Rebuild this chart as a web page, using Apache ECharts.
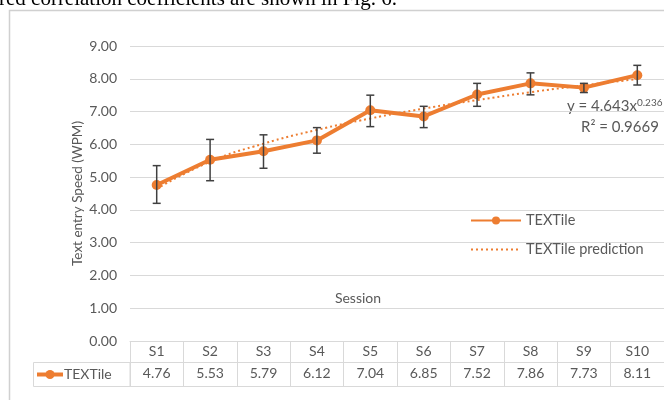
<!DOCTYPE html>
<html>
<head>
<meta charset="utf-8">
<script src="https://cdn.jsdelivr.net/npm/echarts@6/dist/echarts.min.js"></script>
<style>
html,body{margin:0;padding:0;background:#fff;}
#c{width:664px;height:400px;}
</style>
</head>
<body>
<div id="c"></div>
<script>
const sessions = ['S1','S2','S3','S4','S5','S6','S7','S8','S9','S10'];
const speed = [4.76, 5.53, 5.79, 6.12, 7.04, 6.85, 7.52, 7.86, 7.73, 8.11];
const errLow = [4.20, 4.89, 5.27, 5.73, 6.54, 6.51, 7.16, 7.51, 7.58, 7.81];
const errHigh = [5.35, 6.15, 6.29, 6.51, 7.50, 7.16, 7.86, 8.18, 7.86, 8.41];
const prediction = [4.64, 5.47, 6.02, 6.44, 6.79, 7.09, 7.35, 7.59, 7.80, 7.99];
const yTicks = ['0.00','1.00','2.00','3.00','4.00','5.00','6.00','7.00','8.00','9.00'];

const FONT = 'Lato';
const GRAY = '#595959';
const ORANGE = '#ED7D31';
const LINEC = '#d9d9d9';

const chart = echarts.init(document.getElementById('c'), null, {renderer: 'canvas'});
const errData = sessions.map((s, i) => [i, errLow[i], errHigh[i]]);

chart.setOption({
  animation: false,
  backgroundColor: '#fff',
  textStyle: {fontFamily: FONT},
  grid: {left: 130, top: 46, width: 543, height: 295, containLabel: false},
  legend: {
    orient: 'vertical',
    left: 465, top: 208,
    itemWidth: 50, itemHeight: 10, itemGap: 14,
    textStyle: {color: GRAY, fontSize: 14.5, fontFamily: FONT},
    data: [
      {name: 'TEXTile'},
      {name: 'TEXTile prediction', itemStyle: {opacity: 0}}
    ]
  },
  xAxis: [
    {
      type: 'category', data: sessions, position: 'bottom', boundaryGap: true,
      axisLine: {show: true, lineStyle: {color: LINEC, width: 1}},
      axisTick: {show: true, interval: 0, length: 45, lineStyle: {color: LINEC, width: 1}},
      axisLabel: {interval: 0, color: GRAY, fontSize: 14, fontFamily: FONT, margin: 3},
      splitLine: {show: false}
    },
    {
      type: 'category', data: sessions, position: 'bottom', offset: 21, boundaryGap: true,
      axisLine: {show: true, lineStyle: {color: LINEC, width: 1}},
      axisTick: {show: false},
      axisLabel: {interval: 0, color: GRAY, fontSize: 14, fontFamily: FONT, margin: 4,
        formatter: (v, i) => speed[i].toFixed(2)},
      splitLine: {show: false}
    },
    {
      type: 'category', data: sessions, position: 'bottom', offset: 45, boundaryGap: true,
      axisLine: {show: true, lineStyle: {color: LINEC, width: 1}},
      axisTick: {show: false}, axisLabel: {show: false}, splitLine: {show: false}
    }
  ],
  yAxis: {
    type: 'value', min: 0, max: 9, interval: 1,
    name: 'Text entry Speed (WPM)', nameLocation: 'middle', nameGap: 45,
    nameMoveOverlap: false,
    nameTextStyle: {color: GRAY, fontSize: 13.5, fontFamily: FONT},
    axisLine: {show: false}, axisTick: {show: false},
    axisLabel: {color: GRAY, fontSize: 14, fontFamily: FONT, margin: 13,
      formatter: v => yTicks[Math.round(v)]},
    splitLine: {show: true, lineStyle: {color: LINEC, width: 1}}
  },
  series: [
    {
      name: 'TEXTile prediction', type: 'line', data: prediction, smooth: true,
      symbol: 'none', z: 2,
      lineStyle: {color: ORANGE, width: 2, type: [2, 3]},
      itemStyle: {color: ORANGE}
    },
    {
      name: 'TEXTile', type: 'line', data: speed, z: 3,
      symbol: 'circle', symbolSize: 10,
      lineStyle: {color: ORANGE, width: 4},
      itemStyle: {color: ORANGE}
    },
    {
      name: 'err', type: 'custom', data: errData, z: 4,
      renderItem: function (params, api) {
        const x = api.value(0);
        const lo = api.coord([x, api.value(1)]);
        const hi = api.coord([x, api.value(2)]);
        const hw = 4;
        const st = {stroke: '#404040', lineWidth: 1.5};
        return {type: 'group', children: [
          {type: 'line', shape: {x1: lo[0], y1: lo[1], x2: hi[0], y2: hi[1]}, style: st},
          {type: 'line', shape: {x1: lo[0]-hw, y1: lo[1], x2: lo[0]+hw, y2: lo[1]}, style: st},
          {type: 'line', shape: {x1: hi[0]-hw, y1: hi[1], x2: hi[0]+hw, y2: hi[1]}, style: st}
        ]};
      }
    }
  ],
  graphic: [
    {type: 'text', x: -1, y: 10, style: {text: 'red correlation coefficients are shown in Fig. 6.',
      font: '21px "Liberation Serif"', fill: '#000', textVerticalAlign: 'bottom'}},
    {type: 'rect', shape: {x: 9.5, y: 10.5, width: 700, height: 500}, style: {fill: 'none', stroke: '#d0d0d0', lineWidth: 1.5}, z: -1},
    {type: 'rect', shape: {x: 33.5, y: 362.5, width: 96.5, height: 24}, style: {fill: 'none', stroke: LINEC, lineWidth: 1}},
    {type: 'line', shape: {x1: 37, y1: 374.5, x2: 63, y2: 374.5}, style: {stroke: ORANGE, lineWidth: 4}},
    {type: 'circle', shape: {cx: 50, cy: 374.5, r: 4.5}, style: {fill: ORANGE}},
    {type: 'text', x: 64, y: 374.5, style: {text: 'TEXTile', font: '14px Lato', fill: GRAY, textVerticalAlign: 'middle'}},
    {type: 'text', x: 358, y: 298, style: {text: 'Session', font: '14px Lato', fill: GRAY, textAlign: 'center', textVerticalAlign: 'middle'}},
    {type: 'text', x: 567, y: 106, style: {
      text: '{a|y = 4.643x}{b|0.236}',
      rich: {a: {font: '15px Lato', fontSize: 15, fontFamily: FONT, fill: GRAY},
             b: {font: '10px Lato', fontSize: 10, fontFamily: FONT, fill: GRAY, verticalAlign: 'top', padding: [0,0,7,0]}},
      textVerticalAlign: 'middle'}},
    {type: 'text', x: 581, y: 127, style: {text: 'R² = 0.9669', font: '15px Lato', fill: GRAY, textVerticalAlign: 'middle'}}
  ]
});
</script>
</body>
</html>
